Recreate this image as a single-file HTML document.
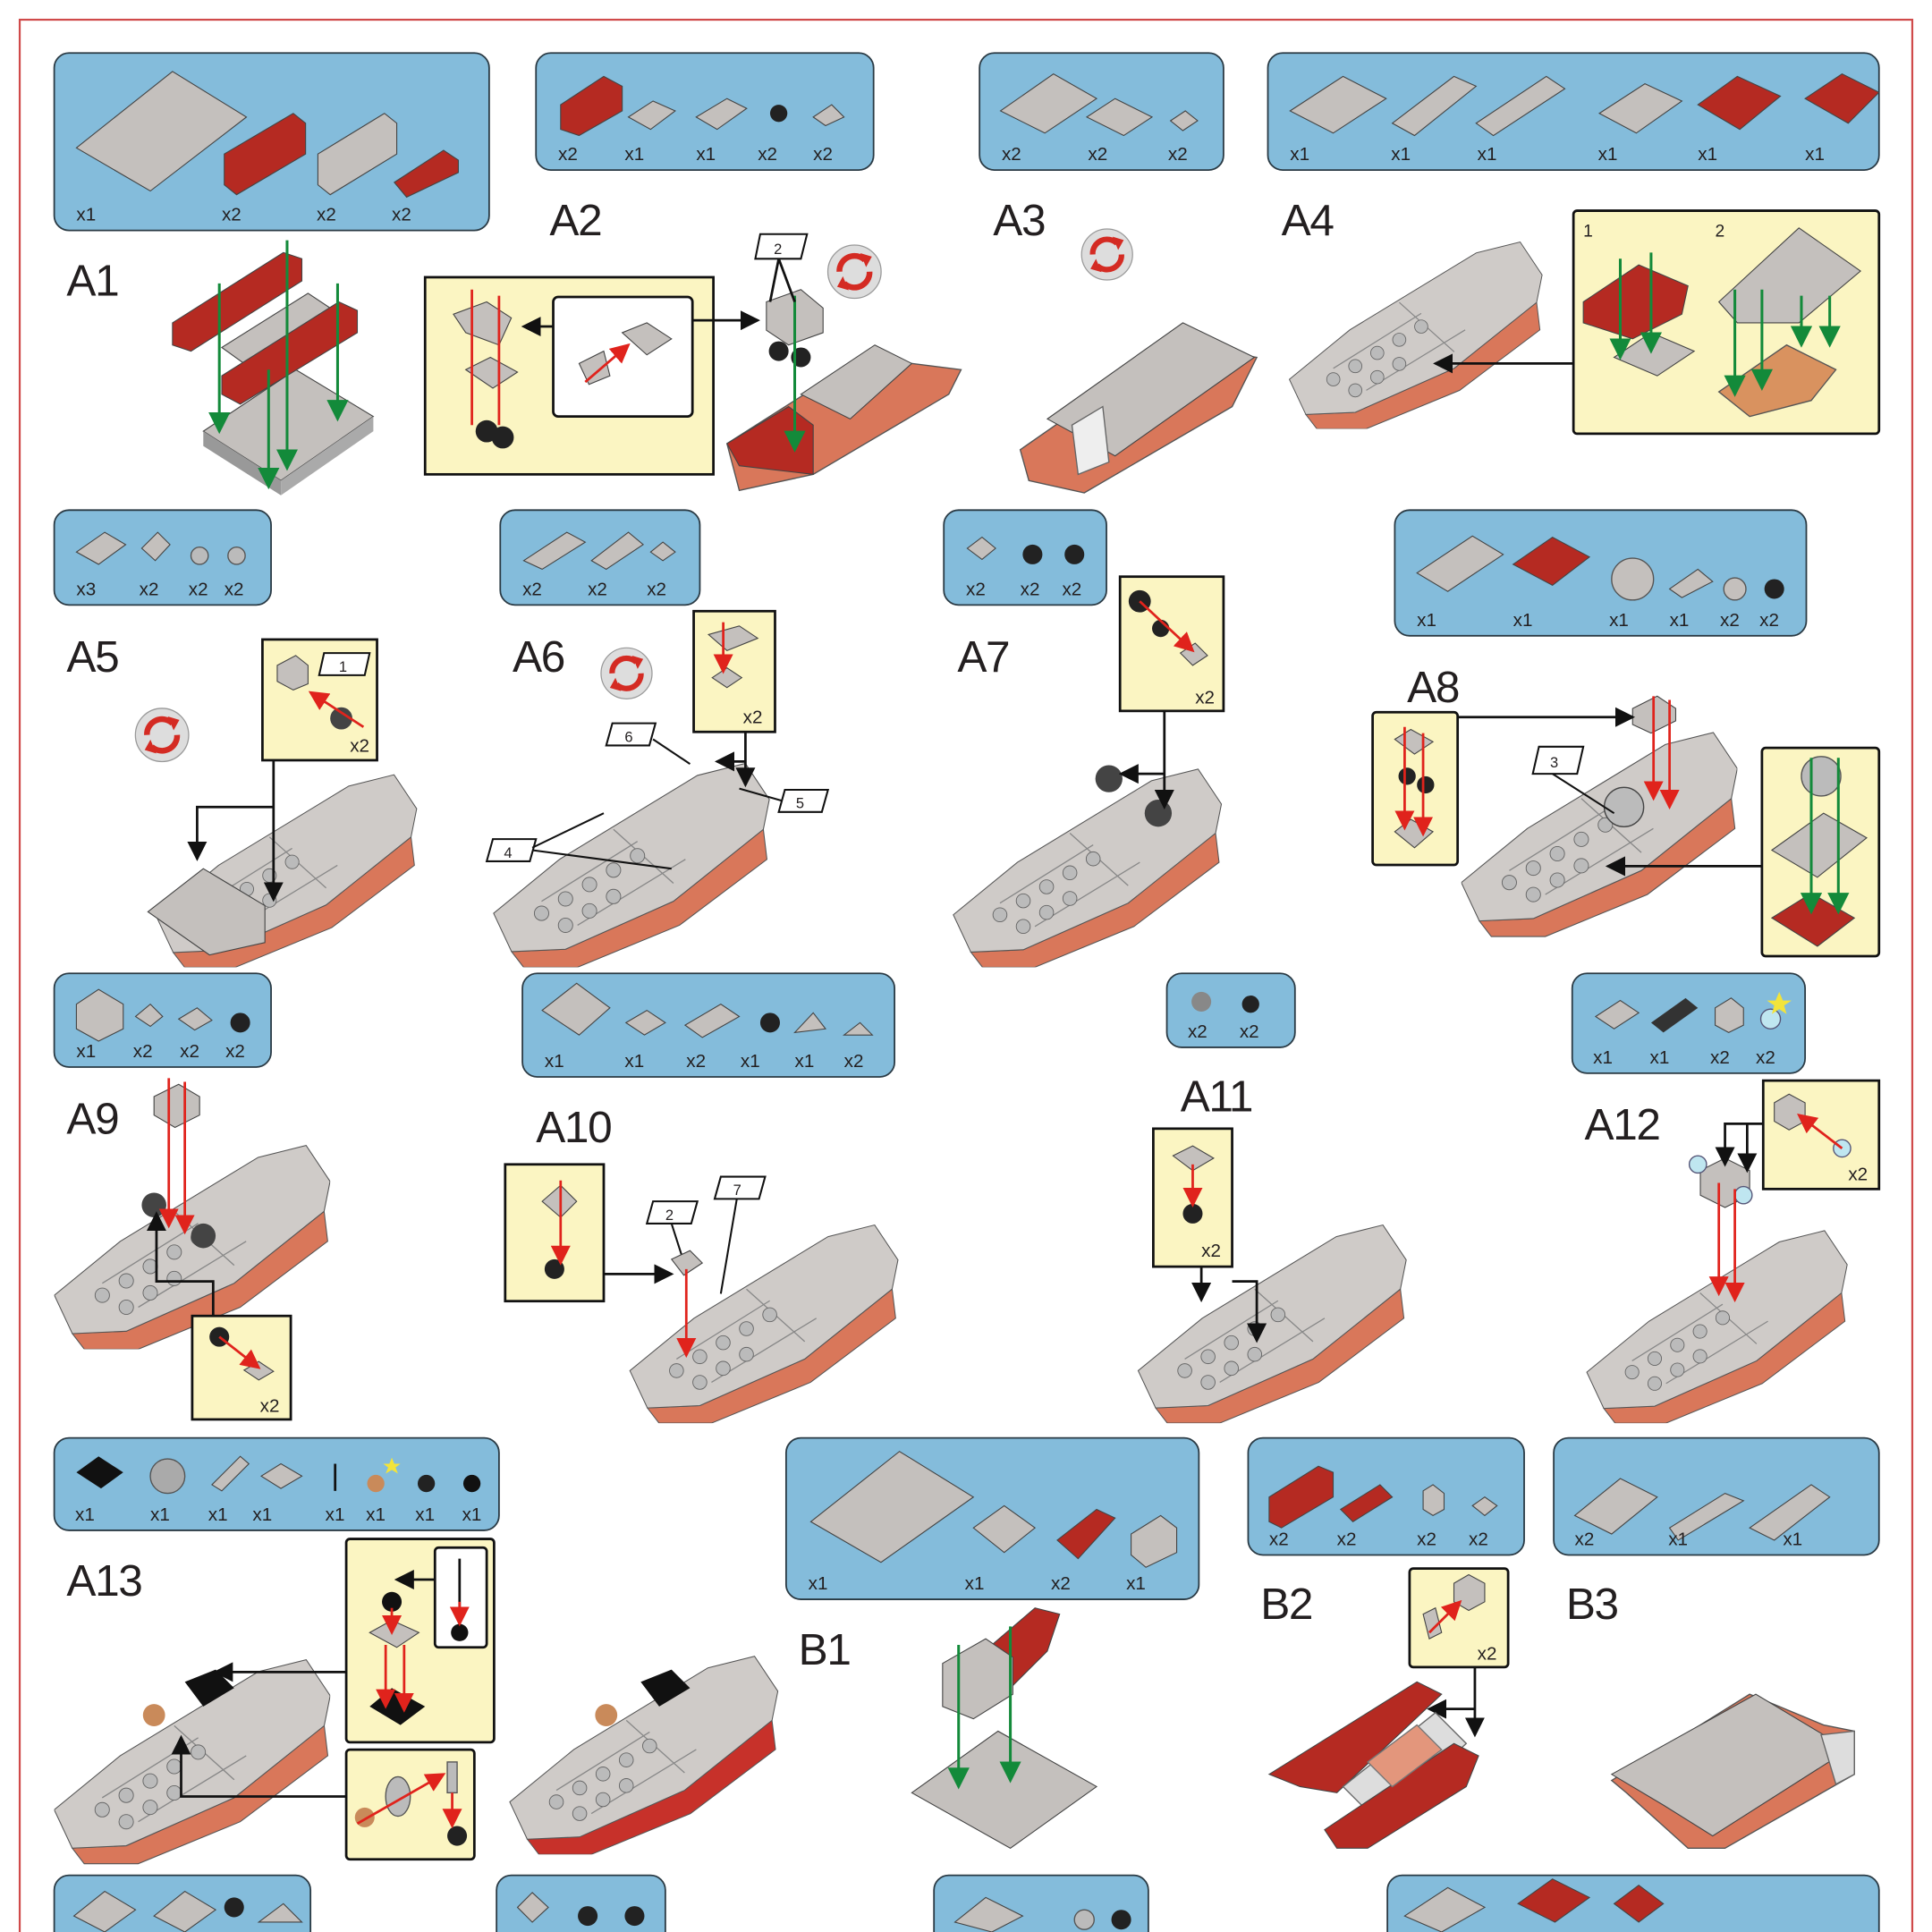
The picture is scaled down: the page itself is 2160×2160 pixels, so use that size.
<!DOCTYPE html>
<html><head><meta charset="utf-8"><style>
html,body{margin:0;padding:0;background:#fff;}
svg{display:block}
.lbl{font-family:"Liberation Sans Narrow","Liberation Sans",sans-serif;font-size:36px;fill:#231f20;letter-spacing:-1px}
.q{font-family:"Liberation Sans Narrow","Liberation Sans",sans-serif;font-size:15px;fill:#231f20}
.n{font-family:"Liberation Sans",sans-serif;font-size:12px;fill:#231f20}
.bx{fill:#84bcdb;stroke:#2a3a44;stroke-width:1.3}
.yb{fill:#fbf5c2;stroke:#111;stroke-width:2}
.wb{fill:#fff;stroke:#111;stroke-width:2}
.g{fill:#c4c0bd;stroke:#444;stroke-width:.8}
.r{fill:#b52a22;stroke:#444;stroke-width:.8}
.ar{stroke:#111;stroke-width:2;fill:none}
.ra{stroke:#e0231c;stroke-width:2}
.ga{stroke:#138a3a;stroke-width:2.2}
</style></head><body>
<svg width="2160" height="2160" viewBox="0 0 1568 1568" xmlns="http://www.w3.org/2000/svg">
<defs>
<symbol id="boat" viewBox="0 0 230 185">
<path d="M15,172 L60,170 L150,130 L225,70 L228,95 L155,150 L70,185 L25,185 Z" fill="#d9775a" stroke="#555" stroke-width=".8"/>
<path d="M0,140 L55,95 L170,25 L210,15 L230,45 L225,70 L150,130 L60,170 L15,172 Z" fill="#cfcbc8" stroke="#555" stroke-width=".8"/>
<path d="M40,130 L120,80 M70,150 L160,95 M100,70 L150,115" stroke="#888" stroke-width="1"/>
<g fill="#bbb" stroke="#666" stroke-width=".7">
<circle cx="40" cy="140" r="6"/><circle cx="60" cy="128" r="6"/><circle cx="80" cy="116" r="6"/><circle cx="60" cy="150" r="6"/><circle cx="80" cy="138" r="6"/><circle cx="100" cy="126" r="6"/><circle cx="100" cy="104" r="6"/><circle cx="120" cy="92" r="6"/>
</g>
</symbol>
<symbol id="boatr" viewBox="0 0 230 185">
<path d="M15,172 L60,170 L150,130 L225,70 L228,95 L155,150 L70,185 L25,185 Z" fill="#c7312a" stroke="#555" stroke-width=".8"/>
<path d="M0,140 L55,95 L170,25 L210,15 L230,45 L225,70 L150,130 L60,170 L15,172 Z" fill="#cfcbc8" stroke="#555" stroke-width=".8"/>
<path d="M40,130 L120,80 M70,150 L160,95 M100,70 L150,115" stroke="#888" stroke-width="1"/>
<g fill="#bbb" stroke="#666" stroke-width=".7">
<circle cx="40" cy="140" r="6"/><circle cx="60" cy="128" r="6"/><circle cx="80" cy="116" r="6"/><circle cx="60" cy="150" r="6"/><circle cx="80" cy="138" r="6"/><circle cx="100" cy="126" r="6"/><circle cx="100" cy="104" r="6"/><circle cx="120" cy="92" r="6"/>
</g>
</symbol>
<symbol id="rot" viewBox="0 0 50 50">
<circle cx="25" cy="25" r="23" fill="#ddd" stroke="#999"/>
<path d="M12,25 A13,13 0 0 1 34,15" stroke="#d42b23" stroke-width="5" fill="none"/>
<path d="M38,25 A13,13 0 0 1 16,35" stroke="#d42b23" stroke-width="5" fill="none"/>
<path d="M30,9 L40,12 L35,21Z M20,41 L10,38 L15,29Z" fill="#d42b23"/>
</symbol>
<marker id="mk" markerWidth="8" markerHeight="8" refX="7" refY="4" orient="auto"><path d="M0,0 L8,4 L0,8Z" fill="#111"/></marker>
<marker id="mr" markerWidth="8" markerHeight="8" refX="7" refY="4" orient="auto"><path d="M0,0 L8,4 L0,8Z" fill="#e0231c"/></marker>
<marker id="mg" markerWidth="8" markerHeight="8" refX="7" refY="4" orient="auto"><path d="M0,0 L8,4 L0,8Z" fill="#138a3a"/></marker>
</defs>
<rect x="16" y="16" width="1536" height="1600" fill="none" stroke="#d04a4a" stroke-width="1.6"/>

<rect class="bx" x="44" y="43" width="353" height="144" rx="12"/>
<rect class="bx" x="435" y="43" width="274" height="95" rx="12"/>
<rect class="bx" x="795" y="43" width="198" height="95" rx="12"/>
<rect class="bx" x="1029" y="43" width="496" height="95" rx="12"/>
<rect class="bx" x="44" y="414" width="176" height="77" rx="12"/>
<rect class="bx" x="406" y="414" width="162" height="77" rx="12"/>
<rect class="bx" x="766" y="414" width="132" height="77" rx="12"/>
<rect class="bx" x="1132" y="414" width="334" height="102" rx="12"/>
<rect class="bx" x="44" y="790" width="176" height="76" rx="12"/>
<rect class="bx" x="424" y="790" width="302" height="84" rx="12"/>
<rect class="bx" x="947" y="790" width="104" height="60" rx="12"/>
<rect class="bx" x="1276" y="790" width="189" height="81" rx="12"/>
<rect class="bx" x="44" y="1167" width="361" height="75" rx="12"/>
<rect class="bx" x="638" y="1167" width="335" height="131" rx="12"/>
<rect class="bx" x="1013" y="1167" width="224" height="95" rx="12"/>
<rect class="bx" x="1261" y="1167" width="264" height="95" rx="12"/>
<rect class="bx" x="44" y="1522" width="208" height="80" rx="12"/>
<rect class="bx" x="403" y="1522" width="137" height="80" rx="12"/>
<rect class="bx" x="758" y="1522" width="174" height="80" rx="12"/>
<rect class="bx" x="1126" y="1522" width="399" height="80" rx="12"/>

<path class="g" d="M62,120 L140,58 L200,95 L122,155Z"/>
<path class="r" d="M182,125 L238,92 L248,100 L248,125 L192,158 L182,150Z"/>
<path class="g" d="M258,125 L312,92 L322,100 L322,125 L268,158 L258,150Z"/>
<path class="r" d="M320,148 L360,122 L372,130 L372,140 L330,160Z"/>
<path class="r" d="M455,85 L490,62 L505,70 L505,90 L470,110 L455,105Z"/>
<path class="g" d="M510,95 L530,82 L548,90 L528,105Z"/><path class="g" d="M565,95 L590,80 L606,88 L582,105Z"/>
<circle cx="632" cy="92" r="7" fill="#222"/><path class="g" d="M660,95 L675,85 L685,95 L670,102Z"/>
<path class="g" d="M812,90 L855,60 L890,80 L848,108Z"/><path class="g" d="M882,95 L905,80 L935,95 L912,110Z"/><path class="g" d="M950,98 L962,90 L972,98 L960,106Z"/>
<path class="g" d="M1047,90 L1090,62 L1125,80 L1082,108Z"/><path class="g" d="M1130,100 L1180,62 L1198,70 L1148,110Z"/><path class="g" d="M1198,100 L1255,62 L1270,72 L1212,110Z"/><path class="g" d="M1298,92 L1335,68 L1365,82 L1328,108Z"/><path class="r" d="M1378,85 L1410,62 L1445,78 L1412,105Z"/><path class="r" d="M1465,80 L1495,60 L1525,75 L1500,100Z"/>
<path class="g" d="M62,448 L85,432 L102,442 L80,458Z"/><path class="g" d="M115,445 L128,432 L138,442 L126,455Z"/><circle cx="162" cy="451" r="7" fill="#bbb" stroke="#555"/><circle cx="192" cy="451" r="7" fill="#bbb" stroke="#555"/>
<path class="g" d="M425,455 L460,432 L475,440 L440,462Z"/><path class="g" d="M480,455 L510,432 L522,442 L492,462Z"/><path class="g" d="M528,448 L538,440 L548,448 L538,455Z"/>
<path class="g" d="M785,445 L797,436 L808,445 L797,454Z"/><circle cx="838" cy="450" r="8" fill="#222"/><circle cx="872" cy="450" r="8" fill="#222"/>
<path class="g" d="M1150,465 L1195,435 L1220,450 L1175,480Z"/><path class="r" d="M1228,458 L1260,436 L1290,452 L1260,475Z"/><circle cx="1325" cy="470" r="17" fill="#c4c0bd" stroke="#555"/><path class="g" d="M1355,478 L1378,462 L1390,472 L1365,485Z"/><circle cx="1408" cy="478" r="9" fill="#c4c0bd" stroke="#555"/><circle cx="1440" cy="478" r="8" fill="#222"/>
<path class="g" d="M62,815 L80,803 L100,815 L100,835 L80,845 L62,835Z"/><path class="g" d="M110,825 L122,815 L132,825 L122,833Z"/><path class="g" d="M145,827 L160,818 L172,828 L158,836Z"/><circle cx="195" cy="830" r="8" fill="#222"/>
<path class="g" d="M440,820 L468,798 L495,818 L470,840Z"/><path class="g" d="M508,830 L525,820 L540,830 L523,840Z"/><path class="g" d="M556,832 L585,815 L600,825 L570,842Z"/><circle cx="625" cy="830" r="8" fill="#222"/><path class="g" d="M645,838 L660,822 L670,835Z"/><path class="g" d="M685,840 L698,830 L708,840Z"/>
<circle cx="975" cy="813" r="8" fill="#888"/><circle cx="1015" cy="815" r="7" fill="#222"/>
<path class="g" d="M1295,825 L1315,812 L1330,822 L1310,835Z"/><path d="M1340,830 L1368,810 L1378,818 L1350,838Z" fill="#333"/><path class="g" d="M1392,818 L1405,810 L1415,818 L1415,832 L1403,838 L1392,832Z"/><circle cx="1437" cy="827" r="8" fill="#bfe6f0" stroke="#557"/><path d="M1444,805 l3,7 7,0 -6,4 2,7 -6,-4 -6,4 2,-7 -6,-4 7,0Z" fill="#f3e43a"/>
<path d="M62,1195 L80,1182 L100,1195 L82,1208Z" fill="#111"/><circle cx="136" cy="1198" r="14" fill="#aaa" stroke="#555"/><path class="g" d="M172,1205 L195,1182 L202,1188 L180,1210Z"/><path class="g" d="M212,1198 L228,1188 L245,1198 L228,1208Z"/><line x1="272" y1="1188" x2="272" y2="1210" stroke="#111" stroke-width="2"/><circle cx="305" cy="1204" r="7" fill="#c98a5a"/><path d="M318,1183 l2,5 5,0 -4,3 2,5 -5,-3 -5,3 2,-5 -4,-3 5,0Z" fill="#f3e43a"/><circle cx="346" cy="1204" r="7" fill="#222"/><circle cx="383" cy="1204" r="7" fill="#111"/>
<path class="g" d="M658,1235 L730,1178 L790,1215 L715,1268Z"/><path class="g" d="M790,1240 L815,1222 L840,1240 L815,1260Z"/><path class="r" d="M858,1250 L890,1225 L905,1232 L875,1265Z"/><path class="g" d="M918,1245 L942,1230 L955,1240 L955,1260 L930,1272 L918,1262Z"/>
<path class="r" d="M1030,1215 L1070,1190 L1082,1195 L1082,1215 L1040,1240 L1030,1235Z"/><path class="r" d="M1088,1225 L1120,1205 L1130,1215 L1098,1235Z"/><path class="g" d="M1155,1210 L1163,1205 L1172,1212 L1172,1225 L1163,1230 L1155,1225Z"/><path class="g" d="M1195,1222 L1205,1215 L1215,1222 L1205,1230Z"/>
<path class="g" d="M1278,1230 L1315,1200 L1345,1215 L1308,1245Z"/><path class="g" d="M1355,1240 L1400,1212 L1415,1218 L1362,1250Z"/><path class="g" d="M1420,1240 L1470,1205 L1485,1215 L1440,1250Z"/>
<path class="g" d="M60,1555 L85,1535 L110,1550 L85,1568Z"/><path class="g" d="M125,1555 L150,1535 L175,1550 L150,1568Z"/><circle cx="190" cy="1548" r="8" fill="#222"/><path class="g" d="M210,1560 L230,1545 L245,1560Z"/>
<path class="g" d="M420,1548 L432,1536 L445,1548 L432,1560Z"/><circle cx="477" cy="1555" r="8" fill="#222"/><circle cx="515" cy="1555" r="8" fill="#222"/>
<path class="g" d="M775,1560 L800,1540 L830,1555 L805,1568Z"/><circle cx="880" cy="1558" r="8" fill="#bbb" stroke="#555"/><circle cx="910" cy="1558" r="8" fill="#222"/>
<path class="r" d="M1232,1545 L1260,1525 L1290,1540 L1262,1560Z"/><path class="r" d="M1310,1545 L1330,1530 L1350,1545 L1330,1560Z"/><path class="g" d="M1140,1555 L1175,1532 L1205,1548 L1170,1568Z"/>

<g class="q">
<text x="62" y="179">x1</text><text x="180" y="179">x2</text><text x="257" y="179">x2</text><text x="318" y="179">x2</text>
<text x="453" y="130">x2</text><text x="507" y="130">x1</text><text x="565" y="130">x1</text><text x="615" y="130">x2</text><text x="660" y="130">x2</text>
<text x="813" y="130">x2</text><text x="883" y="130">x2</text><text x="948" y="130">x2</text>
<text x="1047" y="130">x1</text><text x="1129" y="130">x1</text><text x="1199" y="130">x1</text><text x="1297" y="130">x1</text><text x="1378" y="130">x1</text><text x="1465" y="130">x1</text>
<text x="62" y="483">x3</text><text x="113" y="483">x2</text><text x="153" y="483">x2</text><text x="182" y="483">x2</text>
<text x="424" y="483">x2</text><text x="477" y="483">x2</text><text x="525" y="483">x2</text>
<text x="784" y="483">x2</text><text x="828" y="483">x2</text><text x="862" y="483">x2</text>
<text x="1150" y="508">x1</text><text x="1228" y="508">x1</text><text x="1306" y="508">x1</text><text x="1355" y="508">x1</text><text x="1396" y="508">x2</text><text x="1428" y="508">x2</text>
<text x="62" y="858">x1</text><text x="108" y="858">x2</text><text x="146" y="858">x2</text><text x="183" y="858">x2</text>
<text x="442" y="866">x1</text><text x="507" y="866">x1</text><text x="557" y="866">x2</text><text x="601" y="866">x1</text><text x="645" y="866">x1</text><text x="685" y="866">x2</text>
<text x="964" y="842">x2</text><text x="1006" y="842">x2</text>
<text x="1293" y="863">x1</text><text x="1339" y="863">x1</text><text x="1388" y="863">x2</text><text x="1425" y="863">x2</text>
<text x="61" y="1234">x1</text><text x="122" y="1234">x1</text><text x="169" y="1234">x1</text><text x="205" y="1234">x1</text><text x="264" y="1234">x1</text><text x="297" y="1234">x1</text><text x="337" y="1234">x1</text><text x="375" y="1234">x1</text>
<text x="656" y="1290">x1</text><text x="783" y="1290">x1</text><text x="853" y="1290">x2</text><text x="914" y="1290">x1</text>
<text x="1030" y="1254">x2</text><text x="1085" y="1254">x2</text><text x="1150" y="1254">x2</text><text x="1192" y="1254">x2</text>
<text x="1278" y="1254">x2</text><text x="1354" y="1254">x1</text><text x="1447" y="1254">x1</text>
</g>

<g class="lbl">
<text x="54" y="240">A1</text><text x="446" y="191">A2</text><text x="806" y="191">A3</text><text x="1040" y="191">A4</text>
<text x="54" y="545">A5</text><text x="416" y="545">A6</text><text x="777" y="545">A7</text><text x="1142" y="570">A8</text>
<text x="54" y="920">A9</text><text x="435" y="927">A10</text><text x="958" y="902">A11</text><text x="1286" y="925">A12</text>
<text x="54" y="1295">A13</text><text x="648" y="1351">B1</text><text x="1023" y="1314">B2</text><text x="1271" y="1314">B3</text>
</g>

<path class="g" d="M165,350 L240,300 L303,338 L228,390Z"/><path d="M165,350 L228,390 L228,402 L165,362Z" fill="#999"/><path d="M228,390 L303,338 L303,350 L228,402Z" fill="#aaa"/>
<path class="r" d="M140,262 L230,205 L245,210 L245,228 L155,285 L140,280Z"/>
<path class="g" d="M180,282 L250,238 L268,250 L198,295Z"/>
<path class="r" d="M180,305 L275,245 L290,252 L290,270 L195,328 L180,320Z"/>
<g class="ga"><line x1="178" y1="230" x2="178" y2="350" marker-end="url(#mg)"/><line x1="218" y1="300" x2="218" y2="395" marker-end="url(#mg)"/><line x1="233" y1="195" x2="233" y2="380" marker-end="url(#mg)"/><line x1="274" y1="230" x2="274" y2="340" marker-end="url(#mg)"/></g>

<rect class="yb" x="345" y="225" width="234" height="160"/>
<rect class="wb" x="449" y="241" width="113" height="97" rx="4"/>
<path class="g" d="M368,255 L395,245 L415,258 L405,280 L378,270Z"/><path class="g" d="M378,300 L398,290 L420,302 L400,315Z"/><circle cx="395" cy="350" r="9" fill="#222"/><circle cx="408" cy="355" r="9" fill="#222"/>
<path class="g" d="M470,295 L490,285 L495,305 L478,312Z"/><path class="g" d="M505,270 L525,262 L545,275 L525,288Z"/>
<g class="ra"><line x1="383" y1="235" x2="383" y2="345"/><line x1="405" y1="240" x2="405" y2="345"/><line x1="475" y1="310" x2="510" y2="280" marker-end="url(#mr)"/></g>
<line class="ar" x1="449" y1="265" x2="425" y2="265" marker-end="url(#mk)"/>
<line class="ar" x1="562" y1="260" x2="615" y2="260" marker-end="url(#mk)"/>
<path d="M590,360 L700,290 L780,300 L770,320 L660,385 L600,398Z" fill="#d9775a" stroke="#555"/>
<path class="r" d="M590,360 L640,330 L660,345 L660,385 L600,378Z"/>
<path class="g" d="M650,320 L710,280 L740,295 L690,340Z"/>
<path class="g" d="M622,245 L650,235 L668,250 L668,270 L640,280 L622,268Z"/>
<circle cx="632" cy="285" r="8" fill="#222"/><circle cx="650" cy="290" r="8" fill="#222"/>
<line class="ga" x1="645" y1="240" x2="645" y2="365" marker-end="url(#mg)"/>
<path d="M617,190 L655,190 L650,210 L613,210Z" fill="#fff" stroke="#111" stroke-width="1.5"/><text class="n" x="628" y="206">2</text>
<line class="ar" x1="632" y1="210" x2="625" y2="245"/><line class="ar" x1="632" y1="210" x2="645" y2="245"/>
<use href="#rot" x="670" y="197" width="47" height="47"/>

<use href="#rot" x="876" y="184" width="45" height="45"/>
<path d="M828,365 L950,280 L1020,290 L1000,330 L880,400 L835,390Z" fill="#d9775a" stroke="#555"/>
<path class="g" d="M850,340 L960,262 L1018,290 L905,370Z" fill="#aaa"/>
<path d="M870,345 L895,330 L900,375 L875,385Z" fill="#eee" stroke="#666"/>

<use href="#boat" x="1040" y="183" width="218" height="165"/>
<rect class="yb" x="1277" y="171" width="248" height="181" rx="3"/>
<text class="n" x="1285" y="192" style="font-size:14px">1</text><text class="n" x="1392" y="192" style="font-size:14px">2</text>
<path class="r" d="M1285,245 L1330,215 L1370,232 L1365,255 L1325,275 L1285,262Z"/>
<path class="g" d="M1310,290 L1340,270 L1375,285 L1345,305Z"/>
<path class="g" d="M1395,245 L1460,185 L1510,220 L1460,262 L1410,262Z"/>
<path d="M1395,318 L1450,280 L1490,300 L1470,325 L1420,338Z" fill="#d9925f" stroke="#555"/>
<g class="ga"><line x1="1315" y1="210" x2="1315" y2="290" marker-end="url(#mg)"/><line x1="1340" y1="205" x2="1340" y2="285" marker-end="url(#mg)"/><line x1="1408" y1="235" x2="1408" y2="320" marker-end="url(#mg)"/><line x1="1430" y1="235" x2="1430" y2="315" marker-end="url(#mg)"/><line x1="1462" y1="240" x2="1462" y2="280" marker-end="url(#mg)"/><line x1="1485" y1="240" x2="1485" y2="280" marker-end="url(#mg)"/></g>
<line class="ar" x1="1277" y1="295" x2="1165" y2="295" marker-end="url(#mk)"/>

<use href="#rot" x="108" y="573" width="47" height="47"/>
<use href="#boat" x="120" y="615" width="225" height="170"/>
<path class="g" d="M120,740 L165,705 L215,735 L215,765 L170,775Z" fill="#999"/>
<rect class="yb" x="213" y="519" width="93" height="98"/>
<path class="g" d="M225,540 L240,532 L250,540 L250,555 L238,560 L225,553Z"/><circle cx="277" cy="583" r="9" fill="#444"/>
<line class="ra" x1="295" y1="590" x2="252" y2="562" marker-end="url(#mr)"/>
<path d="M263,530 L300,530 L296,548 L259,548Z" fill="#fff" stroke="#111" stroke-width="1.5"/><text class="n" x="275" y="545">1</text>
<text class="q" x="284" y="610">x2</text>
<path class="ar" d="M222,617 L222,730" marker-end="url(#mk)"/><path class="ar" d="M222,655 L160,655 L160,697" marker-end="url(#mk)"/>

<use href="#rot" x="486" y="524" width="45" height="45"/>
<use href="#boat" x="400" y="605" width="225" height="180"/>
<rect class="yb" x="563" y="496" width="66" height="98"/>
<path class="g" d="M575,515 L600,508 L615,518 L590,528Z"/><path class="g" d="M578,550 L590,542 L602,550 L590,558Z"/>
<line class="ra" x1="587" y1="505" x2="587" y2="545" marker-end="url(#mr)"/><text class="q" x="603" y="587">x2</text>
<path class="ar" d="M605,594 L605,637" marker-end="url(#mk)"/><path class="ar" d="M605,618 L582,618" marker-end="url(#mk)"/>
<path d="M497,587 L532,587 L527,605 L492,605Z" fill="#fff" stroke="#111" stroke-width="1.5"/><text class="n" x="507" y="602">6</text>
<path d="M637,641 L672,641 L667,659 L632,659Z" fill="#fff" stroke="#111" stroke-width="1.5"/><text class="n" x="646" y="656">5</text>
<path d="M400,681 L435,681 L430,699 L395,699Z" fill="#fff" stroke="#111" stroke-width="1.5"/><text class="n" x="409" y="696">4</text>
<g class="ar" style="stroke-width:1.5"><line x1="432" y1="688" x2="490" y2="660"/><line x1="432" y1="690" x2="545" y2="705"/><line x1="530" y1="600" x2="560" y2="620"/><line x1="635" y1="650" x2="600" y2="640"/></g>

<use href="#boat" x="770" y="610" width="225" height="175"/>
<circle cx="900" cy="632" r="11" fill="#444"/><circle cx="940" cy="660" r="11" fill="#444"/>
<rect class="yb" x="909" y="468" width="84" height="109"/>
<circle cx="925" cy="488" r="9" fill="#222"/><circle cx="942" cy="510" r="7" fill="#222"/><path class="g" d="M958,530 L970,522 L980,532 L968,540Z"/>
<line class="ra" x1="925" y1="488" x2="968" y2="528" marker-end="url(#mr)"/><text class="q" x="970" y="571">x2</text>
<path class="ar" d="M945,577 L945,655" marker-end="url(#mk)"/><path class="ar" d="M945,628 L910,628" marker-end="url(#mk)"/>

<use href="#boat" x="1186" y="560" width="224" height="220"/>
<circle cx="1318" cy="655" r="16" fill="#bbb" stroke="#444"/>
<path class="g" d="M1325,575 L1345,565 L1360,575 L1360,585 L1340,595 L1325,588Z"/>
<g class="ra"><line x1="1342" y1="565" x2="1342" y2="648" marker-end="url(#mr)"/><line x1="1355" y1="568" x2="1355" y2="655" marker-end="url(#mr)"/></g>
<rect class="yb" x="1114" y="578" width="69" height="124" rx="3"/>
<circle cx="1142" cy="630" r="7" fill="#222"/><circle cx="1157" cy="637" r="7" fill="#222"/>
<path class="g" d="M1132,600 L1145,592 L1163,602 L1148,612Z"/><path class="g" d="M1132,675 L1145,665 L1163,675 L1148,688Z"/>
<g class="ra"><line x1="1140" y1="590" x2="1140" y2="672" marker-end="url(#mr)"/><line x1="1155" y1="595" x2="1155" y2="677" marker-end="url(#mr)"/></g>
<line class="ar" x1="1183" y1="582" x2="1325" y2="582" marker-end="url(#mk)"/>
<path d="M1249,606 L1285,606 L1280,628 L1244,628Z" fill="#fff" stroke="#111" stroke-width="1.5"/><text class="n" x="1258" y="623">3</text>
<line class="ar" x1="1260" y1="628" x2="1310" y2="660" style="stroke-width:1.5"/>
<rect class="yb" x="1430" y="607" width="95" height="169" rx="3"/>
<circle cx="1478" cy="630" r="16" fill="#bbb" stroke="#555"/>
<path class="g" d="M1438,690 L1480,660 L1515,680 L1475,712Z"/><path class="r" d="M1438,745 L1470,725 L1505,745 L1475,768Z"/>
<g class="ga"><line x1="1470" y1="615" x2="1470" y2="740" marker-end="url(#mg)"/><line x1="1492" y1="615" x2="1492" y2="740" marker-end="url(#mg)"/></g>
<line class="ar" x1="1430" y1="703" x2="1305" y2="703" marker-end="url(#mk)"/>

<use href="#boat" x="44" y="915" width="224" height="180"/>
<circle cx="125" cy="978" r="10" fill="#444"/><circle cx="165" cy="1003" r="10" fill="#444"/>
<path class="g" d="M125,890 L145,880 L162,890 L162,905 L142,915 L125,905Z"/>
<g class="ra"><line x1="137" y1="875" x2="137" y2="995" marker-end="url(#mr)"/><line x1="150" y1="878" x2="150" y2="1000" marker-end="url(#mr)"/></g>
<rect class="yb" x="156" y="1068" width="80" height="84"/>
<circle cx="178" cy="1085" r="8" fill="#222"/><path class="g" d="M198,1112 L210,1105 L222,1113 L210,1120Z"/>
<line class="ra" x1="178" y1="1085" x2="210" y2="1110" marker-end="url(#mr)"/><text class="q" x="211" y="1146">x2</text>
<path class="ar" d="M173,1068 L173,1040 L127,1040 L127,985" marker-end="url(#mk)"/>

<use href="#boat" x="508" y="980" width="224" height="175"/>
<rect class="yb" x="410" y="945" width="80" height="111"/>
<path class="g" d="M440,975 L455,962 L468,975 L455,988Z"/><circle cx="450" cy="1030" r="8" fill="#222"/>
<line class="ra" x1="455" y1="958" x2="455" y2="1025" marker-end="url(#mr)"/>
<line class="ar" x1="490" y1="1034" x2="545" y2="1034" marker-end="url(#mk)"/>
<path class="g" d="M545,1022 L560,1015 L570,1025 L555,1035Z"/><line class="ra" x1="557" y1="1030" x2="557" y2="1100" marker-end="url(#mr)"/>
<path d="M530,975 L566,975 L561,993 L525,993Z" fill="#fff" stroke="#111" stroke-width="1.5"/><text class="n" x="540" y="990">2</text>
<path d="M585,955 L621,955 L616,973 L580,973Z" fill="#fff" stroke="#111" stroke-width="1.5"/><text class="n" x="595" y="970">7</text>
<line class="ar" x1="545" y1="993" x2="553" y2="1018" style="stroke-width:1.5"/><line class="ar" x1="598" y1="973" x2="585" y2="1050" style="stroke-width:1.5"/>

<use href="#boat" x="920" y="980" width="225" height="175"/>
<rect class="yb" x="936" y="916" width="64" height="112"/>
<path class="g" d="M952,938 L968,930 L985,940 L968,950Z"/><circle cx="968" cy="985" r="8" fill="#222"/>
<line class="ra" x1="968" y1="945" x2="968" y2="978" marker-end="url(#mr)"/><text class="q" x="975" y="1020">x2</text>
<path class="ar" d="M1000,1040 L1020,1040 L1020,1088" marker-end="url(#mk)"/><path class="ar" d="M975,1028 L975,1055" marker-end="url(#mk)"/>

<use href="#boat" x="1282" y="985" width="223" height="170"/>
<path class="g" d="M1380,950 L1400,940 L1420,950 L1420,970 L1400,980 L1380,970Z"/>
<circle cx="1378" cy="945" r="7" fill="#bfe6f0" stroke="#557"/><circle cx="1415" cy="970" r="7" fill="#bfe6f0" stroke="#557"/>
<g class="ra"><line x1="1395" y1="960" x2="1395" y2="1050" marker-end="url(#mr)"/><line x1="1408" y1="965" x2="1408" y2="1055" marker-end="url(#mr)"/></g>
<rect class="yb" x="1431" y="877" width="94" height="88"/>
<path class="g" d="M1440,895 L1452,888 L1465,895 L1465,910 L1452,917 L1440,910Z"/><circle cx="1495" cy="932" r="7" fill="#bfe6f0" stroke="#557"/>
<line class="ra" x1="1495" y1="932" x2="1460" y2="905" marker-end="url(#mr)"/><text class="q" x="1500" y="958">x2</text>
<path class="ar" d="M1431,912 L1400,912 L1400,945" marker-end="url(#mk)"/><path class="ar" d="M1418,912 L1418,950" marker-end="url(#mk)"/>

<use href="#boat" x="44" y="1330" width="224" height="185"/>
<use href="#boatr" x="410" y="1330" width="225" height="175"/>
<path d="M150,1365 L175,1355 L190,1370 L165,1385Z" fill="#111"/><circle cx="125" cy="1392" r="9" fill="#c98a5a"/>
<path d="M520,1365 L545,1355 L560,1370 L535,1385Z" fill="#111"/><circle cx="492" cy="1392" r="9" fill="#c98a5a"/>
<rect class="yb" x="281" y="1249" width="120" height="165" rx="3"/>
<rect class="wb" x="353" y="1256" width="42" height="81" rx="3"/>
<circle cx="318" cy="1300" r="8" fill="#111"/><path class="g" d="M300,1325 L318,1315 L340,1325 L322,1337Z"/><path d="M300,1385 L318,1370 L345,1385 L325,1400Z" fill="#111"/>
<line x1="373" y1="1265" x2="373" y2="1305" stroke="#111" stroke-width="2"/><circle cx="373" cy="1325" r="7" fill="#111"/>
<line class="ar" x1="353" y1="1282" x2="322" y2="1282" marker-end="url(#mk)"/>
<g class="ra"><line x1="318" y1="1305" x2="318" y2="1325" marker-end="url(#mr)"/><line x1="313" y1="1335" x2="313" y2="1385" marker-end="url(#mr)"/><line x1="328" y1="1335" x2="328" y2="1388" marker-end="url(#mr)"/><line x1="373" y1="1300" x2="373" y2="1318" marker-end="url(#mr)"/></g>
<rect class="yb" x="281" y="1420" width="104" height="89" rx="3"/>
<circle cx="296" cy="1475" r="8" fill="#c98a5a"/><ellipse cx="323" cy="1458" rx="10" ry="16" fill="#bbb" stroke="#555"/><circle cx="371" cy="1490" r="8" fill="#222"/><rect x="363" y="1430" width="8" height="25" fill="#bbb" stroke="#555"/>
<g class="ra"><line x1="290" y1="1480" x2="360" y2="1440" marker-end="url(#mr)"/><line x1="367" y1="1455" x2="367" y2="1482" marker-end="url(#mr)"/></g>
<path class="ar" d="M281,1357 L175,1357" marker-end="url(#mk)"/><path class="ar" d="M281,1458 L147,1458 L147,1410" marker-end="url(#mk)"/>

<path class="g" d="M740,1455 L810,1405 L890,1450 L820,1500Z"/>
<path class="r" d="M805,1335 L840,1305 L860,1310 L850,1340 L820,1370 L805,1360Z"/>
<path class="g" d="M765,1350 L800,1330 L822,1345 L822,1375 L790,1395 L765,1385Z"/>
<g class="ga"><line x1="778" y1="1335" x2="778" y2="1450" marker-end="url(#mg)"/><line x1="820" y1="1320" x2="820" y2="1445" marker-end="url(#mg)"/></g>

<rect class="yb" x="1144" y="1273" width="80" height="80" rx="3"/>
<path class="g" d="M1180,1285 L1192,1278 L1205,1285 L1205,1300 L1192,1307 L1180,1300Z"/><path class="g" d="M1155,1310 L1165,1305 L1170,1325 L1160,1330Z"/>
<line class="ra" x1="1160" y1="1325" x2="1185" y2="1300" marker-end="url(#mr)"/><text class="q" x="1199" y="1347">x2</text>
<path class="ar" d="M1197,1353 L1197,1408" marker-end="url(#mk)"/><path class="ar" d="M1197,1387 L1160,1387" marker-end="url(#mk)"/>
<path class="r" d="M1030,1440 L1150,1365 L1170,1375 L1085,1455 L1055,1450Z"/>
<path d="M1090,1450 L1165,1390 L1190,1415 L1120,1480Z" fill="#ddd" stroke="#666"/>
<path class="r" d="M1075,1485 L1180,1415 L1200,1425 L1190,1450 L1110,1500 L1085,1500Z"/>
<path d="M1110,1430 L1150,1400 L1170,1420 L1130,1450Z" fill="#e3967c" stroke="#777"/>

<path d="M1308,1445 L1420,1375 L1480,1400 L1505,1405 L1505,1440 L1400,1500 L1370,1500 L1320,1455Z" fill="#d9775a" stroke="#555"/>
<path class="g" d="M1308,1440 L1425,1375 L1500,1420 L1390,1490 L1350,1465Z"/>
<path d="M1478,1408 L1505,1405 L1505,1440 L1490,1448Z" fill="#ddd" stroke="#666"/>
</svg>
</body></html>
